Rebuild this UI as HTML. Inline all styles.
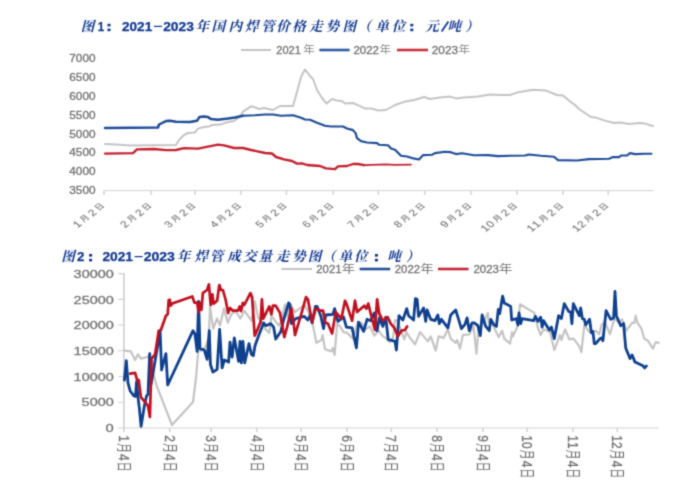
<!DOCTYPE html>
<html lang="zh-CN">
<head>
<meta charset="utf-8">
<title>2021-2023年国内焊管价格走势图 / 焊管成交量走势图</title>
<style>
html,body{margin:0;padding:0;background:#fff;}
body{width:700px;height:485px;overflow:hidden;font-family:"Liberation Sans",sans-serif;}
svg{display:block;}
svg text{font-family:"Liberation Sans","Noto Sans CJK SC",sans-serif;}
svg text.t{font-family:"Liberation Serif","Noto Serif CJK SC",serif;font-weight:bold;font-style:italic;}
svg text.l{stroke:#7a7a7a;stroke-width:0.3px;}
svg text.x{stroke:#8a8a8a;stroke-width:0.15px;}
</style>
</head>
<body>
<svg width="700" height="485" viewBox="0 0 700 485" role="img" aria-label="图1：2021-2023年国内焊管价格走势图（单位：元/吨）；图2：2021-2023年焊管成交量走势图（单位：吨）">
<defs><filter id="soft" x="0" y="0" width="700" height="485" filterUnits="userSpaceOnUse" color-interpolation-filters="sRGB"><feConvolveMatrix order="3" kernelMatrix="0.0289 0.1122 0.0289 0.1122 0.4356 0.1122 0.0289 0.1122 0.0289" divisor="1" edgeMode="duplicate" preserveAlpha="false"/></filter></defs>
<g filter="url(#soft)">
<rect width="700" height="485" fill="#fff"/>
<text class="t" x="80.84" y="31" font-size="13.6" fill="#103791">图</text>
<text x="97.8" y="31" textLength="6.4" lengthAdjust="spacingAndGlyphs" font-size="13" fill="#103791" font-weight="bold" text-anchor="start" stroke="#103791" stroke-width="0.25">1</text>
<rect x="107.5" y="23.8" width="3" height="2.6" fill="#103791"/>
<rect x="107.5" y="28.6" width="3" height="2.6" fill="#103791"/>
<text x="122" y="31" textLength="30.2" lengthAdjust="spacingAndGlyphs" font-size="13" fill="#103791" font-weight="bold" text-anchor="start" stroke="#103791" stroke-width="0.25">2021</text>
<rect x="154" y="25.8" width="8" height="1.2" fill="#103791"/>
<text x="163.2" y="31" textLength="30.6" lengthAdjust="spacingAndGlyphs" font-size="13" fill="#103791" font-weight="bold" text-anchor="start" stroke="#103791" stroke-width="0.25">2023</text>
<text class="t" x="195.59 211.51 228.39 245.01 261.16 276.21 292.11 309.37 325.49 342.44 357.49 375.3 391.85" y="31" font-size="13.6" fill="#103791">年国内焊管价格走势图（单位</text>
<rect x="410.3" y="23.8" width="3" height="2.6" fill="#103791"/>
<rect x="410.3" y="28.6" width="3" height="2.6" fill="#103791"/>
<text class="t" x="425.2" y="31" font-size="13.6" fill="#103791">元</text>
<path d="M441.6 31.5 L448.4 21.5" stroke="#103791" stroke-width="1.8" fill="none"/>
<text class="t" x="447.6 465.18" y="31" font-size="13.6" fill="#103791">吨）</text>
<text class="t" x="61.24" y="261.2" font-size="13.6" fill="#103791">图</text>
<text x="76.9" y="261.2" textLength="7.4" lengthAdjust="spacingAndGlyphs" font-size="13" fill="#103791" font-weight="bold" text-anchor="start" stroke="#103791" stroke-width="0.25">2</text>
<rect x="89.1" y="254" width="3" height="2.6" fill="#103791"/>
<rect x="89.1" y="258.8" width="3" height="2.6" fill="#103791"/>
<text x="102.4" y="261.2" textLength="30.6" lengthAdjust="spacingAndGlyphs" font-size="13" fill="#103791" font-weight="bold" text-anchor="start" stroke="#103791" stroke-width="0.25">2021</text>
<rect x="134.6" y="256" width="8" height="1.2" fill="#103791"/>
<text x="143.7" y="261.2" textLength="31.2" lengthAdjust="spacingAndGlyphs" font-size="13" fill="#103791" font-weight="bold" text-anchor="start" stroke="#103791" stroke-width="0.25">2023</text>
<text class="t" x="176.69 194.41 209.86 226.96 243.08 258.62 275.67 291.99 307.84 321.99 338.5 354.05" y="261.2" font-size="13.6" fill="#103791">年焊管成交量走势图（单位</text>
<rect x="374.9" y="254" width="3" height="2.6" fill="#103791"/>
<rect x="374.9" y="258.8" width="3" height="2.6" fill="#103791"/>
<text class="t" x="387.3 406.08" y="261.2" font-size="13.6" fill="#103791">吨）</text>
<line x1="241" y1="50" x2="271" y2="50" stroke="#c4c4c4" stroke-width="2"/>
<line x1="319.4" y1="50" x2="349.6" y2="50" stroke="#2f5ba4" stroke-width="2.6"/>
<line x1="397" y1="50" x2="428" y2="50" stroke="#cb303c" stroke-width="2.6"/>
<text x="276.3" y="53.6" textLength="24.5" lengthAdjust="spacingAndGlyphs" font-size="10" fill="#6e6e6e" font-weight="normal" text-anchor="start" class="l">2021</text>
<text x="303.27" y="53.2" font-size="10" textLength="11.5" lengthAdjust="spacingAndGlyphs" fill="#858585">年</text>
<text x="353.4" y="53.6" textLength="25.6" lengthAdjust="spacingAndGlyphs" font-size="10" fill="#6e6e6e" font-weight="normal" text-anchor="start" class="l">2022</text>
<text x="379.57" y="53.2" font-size="10" textLength="11.5" lengthAdjust="spacingAndGlyphs" fill="#858585">年</text>
<text x="431.8" y="53.6" textLength="26.2" lengthAdjust="spacingAndGlyphs" font-size="10" fill="#6e6e6e" font-weight="normal" text-anchor="start" class="l">2023</text>
<text x="458.57" y="53.2" font-size="10" textLength="11.5" lengthAdjust="spacingAndGlyphs" fill="#858585">年</text>
<path d="M104 190.6 H653" stroke="#d2d2d2" stroke-width="1" fill="none"/>
<path d="M104 190.6V195.1M151.2 190.6V195.1M195.2 190.6V195.1M240.8 190.6V195.1M286.4 190.6V195.1M333.2 190.6V195.1M378.3 190.6V195.1M424.7 190.6V195.1M471.1 190.6V195.1M517 190.6V195.1M563 190.6V195.1M608.2 190.6V195.1" stroke="#d2d2d2" stroke-width="1.4" fill="none"/>
<text x="69.3" y="61.8" textLength="26.3" lengthAdjust="spacingAndGlyphs" font-size="10.2" fill="#6e6e6e" font-weight="normal" text-anchor="start" class="l">7000</text>
<text x="69.3" y="80.73" textLength="26.3" lengthAdjust="spacingAndGlyphs" font-size="10.2" fill="#6e6e6e" font-weight="normal" text-anchor="start" class="l">6500</text>
<text x="69.3" y="99.66" textLength="26.3" lengthAdjust="spacingAndGlyphs" font-size="10.2" fill="#6e6e6e" font-weight="normal" text-anchor="start" class="l">6000</text>
<text x="69.3" y="118.59" textLength="26.3" lengthAdjust="spacingAndGlyphs" font-size="10.2" fill="#6e6e6e" font-weight="normal" text-anchor="start" class="l">5500</text>
<text x="69.3" y="137.52" textLength="26.3" lengthAdjust="spacingAndGlyphs" font-size="10.2" fill="#6e6e6e" font-weight="normal" text-anchor="start" class="l">5000</text>
<text x="69.3" y="156.45" textLength="26.3" lengthAdjust="spacingAndGlyphs" font-size="10.2" fill="#6e6e6e" font-weight="normal" text-anchor="start" class="l">4500</text>
<text x="69.3" y="175.38" textLength="26.3" lengthAdjust="spacingAndGlyphs" font-size="10.2" fill="#6e6e6e" font-weight="normal" text-anchor="start" class="l">4000</text>
<text x="69.3" y="194.31" textLength="26.3" lengthAdjust="spacingAndGlyphs" font-size="10.2" fill="#6e6e6e" font-weight="normal" text-anchor="start" class="l">3500</text>
<g transform="translate(107.3 205.5) scale(1.3 1) rotate(-45)">
<text class="x" x="-8.6" y="-0.9" font-size="7.3" textLength="6.8" lengthAdjust="spacingAndGlyphs" fill="#757575">日</text>
<text class="x" x="-13.29" y="0" font-size="9.2" fill="#757575" text-anchor="middle">2</text>
<text class="x" x="-24.78" y="-0.9" font-size="7.3" textLength="6.8" lengthAdjust="spacingAndGlyphs" fill="#757575">月</text>
<text class="x" x="-29.47" y="0" font-size="9.2" fill="#757575" text-anchor="middle">1</text>
</g>
<g transform="translate(154.5 205.5) scale(1.3 1) rotate(-45)">
<text class="x" x="-8.6" y="-0.9" font-size="7.3" textLength="6.8" lengthAdjust="spacingAndGlyphs" fill="#757575">日</text>
<text class="x" x="-13.29" y="0" font-size="9.2" fill="#757575" text-anchor="middle">2</text>
<text class="x" x="-24.78" y="-0.9" font-size="7.3" textLength="6.8" lengthAdjust="spacingAndGlyphs" fill="#757575">月</text>
<text class="x" x="-29.47" y="0" font-size="9.2" fill="#757575" text-anchor="middle">2</text>
</g>
<g transform="translate(198.5 205.5) scale(1.3 1) rotate(-45)">
<text class="x" x="-8.6" y="-0.9" font-size="7.3" textLength="6.8" lengthAdjust="spacingAndGlyphs" fill="#757575">日</text>
<text class="x" x="-13.29" y="0" font-size="9.2" fill="#757575" text-anchor="middle">2</text>
<text class="x" x="-24.78" y="-0.9" font-size="7.3" textLength="6.8" lengthAdjust="spacingAndGlyphs" fill="#757575">月</text>
<text class="x" x="-29.47" y="0" font-size="9.2" fill="#757575" text-anchor="middle">3</text>
</g>
<g transform="translate(244.1 205.5) scale(1.3 1) rotate(-45)">
<text class="x" x="-8.6" y="-0.9" font-size="7.3" textLength="6.8" lengthAdjust="spacingAndGlyphs" fill="#757575">日</text>
<text class="x" x="-13.29" y="0" font-size="9.2" fill="#757575" text-anchor="middle">2</text>
<text class="x" x="-24.78" y="-0.9" font-size="7.3" textLength="6.8" lengthAdjust="spacingAndGlyphs" fill="#757575">月</text>
<text class="x" x="-29.47" y="0" font-size="9.2" fill="#757575" text-anchor="middle">4</text>
</g>
<g transform="translate(289.7 205.5) scale(1.3 1) rotate(-45)">
<text class="x" x="-8.6" y="-0.9" font-size="7.3" textLength="6.8" lengthAdjust="spacingAndGlyphs" fill="#757575">日</text>
<text class="x" x="-13.29" y="0" font-size="9.2" fill="#757575" text-anchor="middle">2</text>
<text class="x" x="-24.78" y="-0.9" font-size="7.3" textLength="6.8" lengthAdjust="spacingAndGlyphs" fill="#757575">月</text>
<text class="x" x="-29.47" y="0" font-size="9.2" fill="#757575" text-anchor="middle">5</text>
</g>
<g transform="translate(336.5 205.5) scale(1.3 1) rotate(-45)">
<text class="x" x="-8.6" y="-0.9" font-size="7.3" textLength="6.8" lengthAdjust="spacingAndGlyphs" fill="#757575">日</text>
<text class="x" x="-13.29" y="0" font-size="9.2" fill="#757575" text-anchor="middle">2</text>
<text class="x" x="-24.78" y="-0.9" font-size="7.3" textLength="6.8" lengthAdjust="spacingAndGlyphs" fill="#757575">月</text>
<text class="x" x="-29.47" y="0" font-size="9.2" fill="#757575" text-anchor="middle">6</text>
</g>
<g transform="translate(381.6 205.5) scale(1.3 1) rotate(-45)">
<text class="x" x="-8.6" y="-0.9" font-size="7.3" textLength="6.8" lengthAdjust="spacingAndGlyphs" fill="#757575">日</text>
<text class="x" x="-13.29" y="0" font-size="9.2" fill="#757575" text-anchor="middle">2</text>
<text class="x" x="-24.78" y="-0.9" font-size="7.3" textLength="6.8" lengthAdjust="spacingAndGlyphs" fill="#757575">月</text>
<text class="x" x="-29.47" y="0" font-size="9.2" fill="#757575" text-anchor="middle">7</text>
</g>
<g transform="translate(428 205.5) scale(1.3 1) rotate(-45)">
<text class="x" x="-8.6" y="-0.9" font-size="7.3" textLength="6.8" lengthAdjust="spacingAndGlyphs" fill="#757575">日</text>
<text class="x" x="-13.29" y="0" font-size="9.2" fill="#757575" text-anchor="middle">2</text>
<text class="x" x="-24.78" y="-0.9" font-size="7.3" textLength="6.8" lengthAdjust="spacingAndGlyphs" fill="#757575">月</text>
<text class="x" x="-29.47" y="0" font-size="9.2" fill="#757575" text-anchor="middle">8</text>
</g>
<g transform="translate(474.4 205.5) scale(1.3 1) rotate(-45)">
<text class="x" x="-8.6" y="-0.9" font-size="7.3" textLength="6.8" lengthAdjust="spacingAndGlyphs" fill="#757575">日</text>
<text class="x" x="-13.29" y="0" font-size="9.2" fill="#757575" text-anchor="middle">2</text>
<text class="x" x="-24.78" y="-0.9" font-size="7.3" textLength="6.8" lengthAdjust="spacingAndGlyphs" fill="#757575">月</text>
<text class="x" x="-29.47" y="0" font-size="9.2" fill="#757575" text-anchor="middle">9</text>
</g>
<g transform="translate(520.3 205.5) scale(1.3 1) rotate(-45)">
<text class="x" x="-8.6" y="-0.9" font-size="7.3" textLength="6.8" lengthAdjust="spacingAndGlyphs" fill="#757575">日</text>
<text class="x" x="-13.29" y="0" font-size="9.2" fill="#757575" text-anchor="middle">2</text>
<text class="x" x="-24.78" y="-0.9" font-size="7.3" textLength="6.8" lengthAdjust="spacingAndGlyphs" fill="#757575">月</text>
<text class="x" x="-29.47" y="0" font-size="9.2" fill="#757575" text-anchor="middle">0</text>
<text class="x" x="-35.26" y="0" font-size="9.2" fill="#757575" text-anchor="middle">1</text>
</g>
<g transform="translate(566.3 205.5) scale(1.3 1) rotate(-45)">
<text class="x" x="-8.6" y="-0.9" font-size="7.3" textLength="6.8" lengthAdjust="spacingAndGlyphs" fill="#757575">日</text>
<text class="x" x="-13.29" y="0" font-size="9.2" fill="#757575" text-anchor="middle">2</text>
<text class="x" x="-24.78" y="-0.9" font-size="7.3" textLength="6.8" lengthAdjust="spacingAndGlyphs" fill="#757575">月</text>
<text class="x" x="-29.47" y="0" font-size="9.2" fill="#757575" text-anchor="middle">1</text>
<text class="x" x="-35.26" y="0" font-size="9.2" fill="#757575" text-anchor="middle">1</text>
</g>
<g transform="translate(611.5 205.5) scale(1.3 1) rotate(-45)">
<text class="x" x="-8.6" y="-0.9" font-size="7.3" textLength="6.8" lengthAdjust="spacingAndGlyphs" fill="#757575">日</text>
<text class="x" x="-13.29" y="0" font-size="9.2" fill="#757575" text-anchor="middle">2</text>
<text class="x" x="-24.78" y="-0.9" font-size="7.3" textLength="6.8" lengthAdjust="spacingAndGlyphs" fill="#757575">月</text>
<text class="x" x="-29.47" y="0" font-size="9.2" fill="#757575" text-anchor="middle">2</text>
<text class="x" x="-35.26" y="0" font-size="9.2" fill="#757575" text-anchor="middle">1</text>
</g>
<polyline points="105,144 120,144.8 130,145.4 176,145 179,140 184,135 188,133 195,132.4 198,128.6 204,127 209,126.4 212,125 220,124.6 228,122 234,121 240,116.5 243,111.6 251,106.4 254,106.8 259,109 264,108 273,110 280,106 293,106 297,92 301,77 305,69.6 310,76 313,79 317,90 322,98 326.6,103.6 332,99 337,100.6 342,101 345,103.6 353,103 359,105.6 365,108.6 371,108.6 375,109.5 378,110.4 386,110 395,105 405,101.6 414,100 424,97 430,99 440,97.6 450,96.6 456,98.4 464,97.4 478,96.6 490,94.4 500,95 510,95 517,92.6 533,89.8 546,90.6 557,95 563,95.6 569,100.6 575,105 579,109 591,117 595,117.4 605,120.6 614,123 620,122.4 629,124 639,123 645,123.6 653,126" fill="none" stroke="#c4c4c4" stroke-width="2" stroke-linejoin="round" stroke-linecap="round"/>
<polyline points="105,128.1 158,127.5 159,124.5 166,121.1 170,120.7 176,121.7 190,122.1 197,120.7 199.4,117.1 204,116.5 208,117.1 211,119.1 218,119.7 228,118.5 235,117.5 243,115.7" fill="none" stroke="#1f4c98" stroke-width="2.5" stroke-linejoin="round" stroke-linecap="round"/>
<polyline points="243,115.7 255,115.3 265,114.5 273,114.5 281,115.7 293,115.3 301,117.7 305,119.5 310,119.7 317,122.7 325,125.7 331,126.5 343,126.5 347,128.5 353,130.1 355.6,133.1 357,138.1 361,141.1 367,142.5 377,143.1 379,144.7 388,145.3 391,148.5 395,149.7 401,155.7 407,156.5 412,158.1 419,159.5 423,155.1 432,154.7 435,153.1 445,151.7 450,152.1 456,154.1 462,153.3 474,155.3 488,155.1 498,156.1 510,155.7 525,155.5 529,154.5 541,155.7 554,156.7 558,160.1 577,160.5 589,159.1 609,158.7 613,157.1 619,157.1 621,155.5 627,155.5 630,153.1 635,154.1 645,153.7 651.4,153.7" fill="none" stroke="#1f4c98" stroke-width="2.15" stroke-linejoin="round" stroke-linecap="round"/>
<polyline points="105,153.6 133,153.2 137,149.4 154,149 166,150.2 176,150 184,148.2 198,148.6 208,146.6 218,144.6 224,145.4 234,148 243,148 251,150 265,153 272,153.5 276,157 284,159.4 292,161 297,163.6 302,163.4 307,165 320,166 326,168.4 335,169.2 338,166.4 347,166 353,164 358,164 364,165.2" fill="none" stroke="#c4212e" stroke-width="2.35" stroke-linejoin="round" stroke-linecap="round"/>
<polyline points="364,165.2 386,164.4 394,164.8 411,164.6" fill="none" stroke="#c4212e" stroke-width="1.8" stroke-linejoin="round" stroke-linecap="round"/>
<line x1="281.4" y1="269" x2="312" y2="269" stroke="#c4c4c4" stroke-width="2"/>
<line x1="359.6" y1="269" x2="390.2" y2="269" stroke="#23509c" stroke-width="2.6"/>
<line x1="438" y1="269" x2="468.5" y2="269" stroke="#c92432" stroke-width="2.6"/>
<text x="316.2" y="272.8" textLength="25.4" lengthAdjust="spacingAndGlyphs" font-size="10.6" fill="#6e6e6e" font-weight="normal" text-anchor="start" class="l">2021</text>
<text x="341.89" y="272.9" font-size="11" textLength="13.4" lengthAdjust="spacingAndGlyphs" fill="#6e6e6e">年</text>
<text x="394.8" y="272.8" textLength="25.2" lengthAdjust="spacingAndGlyphs" font-size="10.6" fill="#6e6e6e" font-weight="normal" text-anchor="start" class="l">2022</text>
<text x="420.29" y="272.9" font-size="11" textLength="13.4" lengthAdjust="spacingAndGlyphs" fill="#6e6e6e">年</text>
<text x="473.4" y="272.8" textLength="25.6" lengthAdjust="spacingAndGlyphs" font-size="10.6" fill="#6e6e6e" font-weight="normal" text-anchor="start" class="l">2023</text>
<text x="499.09" y="272.9" font-size="11" textLength="13.4" lengthAdjust="spacingAndGlyphs" fill="#6e6e6e">年</text>
<path d="M123.9 273.2V428.5" stroke="#d2d2d2" stroke-width="1.7" fill="none"/>
<path d="M123.9 428H659" stroke="#d2d2d2" stroke-width="1.1" fill="none"/>
<path d="M123.9 428V432M169.69 428V432M211.04 428V432M256.83 428V432M301.14 428V432M346.93 428V432M391.24 428V432M437.02 428V432M482.81 428V432M527.12 428V432M572.91 428V432M617.22 428V432" stroke="#d2d2d2" stroke-width="1.5" fill="none"/>
<path d="M118.2 273.6H124.4M118.2 299.33H124.4M118.2 325.06H124.4M118.2 350.79H124.4M118.2 376.52H124.4M118.2 402.25H124.4M118.2 427.98H124.4" stroke="#d2d2d2" stroke-width="1.1" fill="none"/>
<text x="73.6" y="277.8" textLength="40.2" lengthAdjust="spacingAndGlyphs" font-size="11.6" fill="#6e6e6e" font-weight="normal" text-anchor="start" class="l">30000</text>
<text x="73.6" y="303.53" textLength="40.2" lengthAdjust="spacingAndGlyphs" font-size="11.6" fill="#6e6e6e" font-weight="normal" text-anchor="start" class="l">25000</text>
<text x="73.6" y="329.26" textLength="40.2" lengthAdjust="spacingAndGlyphs" font-size="11.6" fill="#6e6e6e" font-weight="normal" text-anchor="start" class="l">20000</text>
<text x="73.6" y="354.99" textLength="40.2" lengthAdjust="spacingAndGlyphs" font-size="11.6" fill="#6e6e6e" font-weight="normal" text-anchor="start" class="l">15000</text>
<text x="73.6" y="380.72" textLength="40.2" lengthAdjust="spacingAndGlyphs" font-size="11.6" fill="#6e6e6e" font-weight="normal" text-anchor="start" class="l">10000</text>
<text x="81.6" y="406.45" textLength="32.2" lengthAdjust="spacingAndGlyphs" font-size="11.6" fill="#6e6e6e" font-weight="normal" text-anchor="start" class="l">5000</text>
<text x="105.6" y="432.18" textLength="8.2" lengthAdjust="spacingAndGlyphs" font-size="11.6" fill="#6e6e6e" font-weight="normal" text-anchor="start" class="l">0</text>
<g transform="translate(119.11 435.3) scale(1.27 1) rotate(90)">
<text class="l" x="3.34" y="0" font-size="12" fill="#6e6e6e" text-anchor="middle">1</text>
<text x="7.87" y="0" font-size="12" textLength="9.6" lengthAdjust="spacingAndGlyphs" fill="#6e6e6e">月</text>
<text class="l" x="22.01" y="0" font-size="12" fill="#6e6e6e" text-anchor="middle">4</text>
<text x="26.54" y="0" font-size="12" textLength="9.6" lengthAdjust="spacingAndGlyphs" fill="#6e6e6e">日</text>
</g>
<g transform="translate(164.9 435.3) scale(1.27 1) rotate(90)">
<text class="l" x="3.34" y="0" font-size="12" fill="#6e6e6e" text-anchor="middle">2</text>
<text x="7.87" y="0" font-size="12" textLength="9.6" lengthAdjust="spacingAndGlyphs" fill="#6e6e6e">月</text>
<text class="l" x="22.01" y="0" font-size="12" fill="#6e6e6e" text-anchor="middle">4</text>
<text x="26.54" y="0" font-size="12" textLength="9.6" lengthAdjust="spacingAndGlyphs" fill="#6e6e6e">日</text>
</g>
<g transform="translate(206.26 435.3) scale(1.27 1) rotate(90)">
<text class="l" x="3.34" y="0" font-size="12" fill="#6e6e6e" text-anchor="middle">3</text>
<text x="7.87" y="0" font-size="12" textLength="9.6" lengthAdjust="spacingAndGlyphs" fill="#6e6e6e">月</text>
<text class="l" x="22.01" y="0" font-size="12" fill="#6e6e6e" text-anchor="middle">4</text>
<text x="26.54" y="0" font-size="12" textLength="9.6" lengthAdjust="spacingAndGlyphs" fill="#6e6e6e">日</text>
</g>
<g transform="translate(252.04 435.3) scale(1.27 1) rotate(90)">
<text class="l" x="3.34" y="0" font-size="12" fill="#6e6e6e" text-anchor="middle">4</text>
<text x="7.87" y="0" font-size="12" textLength="9.6" lengthAdjust="spacingAndGlyphs" fill="#6e6e6e">月</text>
<text class="l" x="22.01" y="0" font-size="12" fill="#6e6e6e" text-anchor="middle">4</text>
<text x="26.54" y="0" font-size="12" textLength="9.6" lengthAdjust="spacingAndGlyphs" fill="#6e6e6e">日</text>
</g>
<g transform="translate(296.35 435.3) scale(1.27 1) rotate(90)">
<text class="l" x="3.34" y="0" font-size="12" fill="#6e6e6e" text-anchor="middle">5</text>
<text x="7.87" y="0" font-size="12" textLength="9.6" lengthAdjust="spacingAndGlyphs" fill="#6e6e6e">月</text>
<text class="l" x="22.01" y="0" font-size="12" fill="#6e6e6e" text-anchor="middle">4</text>
<text x="26.54" y="0" font-size="12" textLength="9.6" lengthAdjust="spacingAndGlyphs" fill="#6e6e6e">日</text>
</g>
<g transform="translate(342.14 435.3) scale(1.27 1) rotate(90)">
<text class="l" x="3.34" y="0" font-size="12" fill="#6e6e6e" text-anchor="middle">6</text>
<text x="7.87" y="0" font-size="12" textLength="9.6" lengthAdjust="spacingAndGlyphs" fill="#6e6e6e">月</text>
<text class="l" x="22.01" y="0" font-size="12" fill="#6e6e6e" text-anchor="middle">4</text>
<text x="26.54" y="0" font-size="12" textLength="9.6" lengthAdjust="spacingAndGlyphs" fill="#6e6e6e">日</text>
</g>
<g transform="translate(386.45 435.3) scale(1.27 1) rotate(90)">
<text class="l" x="3.34" y="0" font-size="12" fill="#6e6e6e" text-anchor="middle">7</text>
<text x="7.87" y="0" font-size="12" textLength="9.6" lengthAdjust="spacingAndGlyphs" fill="#6e6e6e">月</text>
<text class="l" x="22.01" y="0" font-size="12" fill="#6e6e6e" text-anchor="middle">4</text>
<text x="26.54" y="0" font-size="12" textLength="9.6" lengthAdjust="spacingAndGlyphs" fill="#6e6e6e">日</text>
</g>
<g transform="translate(432.24 435.3) scale(1.27 1) rotate(90)">
<text class="l" x="3.34" y="0" font-size="12" fill="#6e6e6e" text-anchor="middle">8</text>
<text x="7.87" y="0" font-size="12" textLength="9.6" lengthAdjust="spacingAndGlyphs" fill="#6e6e6e">月</text>
<text class="l" x="22.01" y="0" font-size="12" fill="#6e6e6e" text-anchor="middle">4</text>
<text x="26.54" y="0" font-size="12" textLength="9.6" lengthAdjust="spacingAndGlyphs" fill="#6e6e6e">日</text>
</g>
<g transform="translate(478.02 435.3) scale(1.27 1) rotate(90)">
<text class="l" x="3.34" y="0" font-size="12" fill="#6e6e6e" text-anchor="middle">9</text>
<text x="7.87" y="0" font-size="12" textLength="9.6" lengthAdjust="spacingAndGlyphs" fill="#6e6e6e">月</text>
<text class="l" x="22.01" y="0" font-size="12" fill="#6e6e6e" text-anchor="middle">4</text>
<text x="26.54" y="0" font-size="12" textLength="9.6" lengthAdjust="spacingAndGlyphs" fill="#6e6e6e">日</text>
</g>
<g transform="translate(522.33 435.3) scale(1.27 1) rotate(90)">
<text class="l" x="3.34" y="0" font-size="12" fill="#6e6e6e" text-anchor="middle">1</text>
<text class="l" x="10.01" y="0" font-size="12" fill="#6e6e6e" text-anchor="middle">0</text>
<text x="14.54" y="0" font-size="12" textLength="9.6" lengthAdjust="spacingAndGlyphs" fill="#6e6e6e">月</text>
<text class="l" x="28.68" y="0" font-size="12" fill="#6e6e6e" text-anchor="middle">4</text>
<text x="33.22" y="0" font-size="12" textLength="9.6" lengthAdjust="spacingAndGlyphs" fill="#6e6e6e">日</text>
</g>
<g transform="translate(568.12 435.3) scale(1.27 1) rotate(90)">
<text class="l" x="3.34" y="0" font-size="12" fill="#6e6e6e" text-anchor="middle">1</text>
<text class="l" x="10.01" y="0" font-size="12" fill="#6e6e6e" text-anchor="middle">1</text>
<text x="14.54" y="0" font-size="12" textLength="9.6" lengthAdjust="spacingAndGlyphs" fill="#6e6e6e">月</text>
<text class="l" x="28.68" y="0" font-size="12" fill="#6e6e6e" text-anchor="middle">4</text>
<text x="33.22" y="0" font-size="12" textLength="9.6" lengthAdjust="spacingAndGlyphs" fill="#6e6e6e">日</text>
</g>
<g transform="translate(612.43 435.3) scale(1.27 1) rotate(90)">
<text class="l" x="3.34" y="0" font-size="12" fill="#6e6e6e" text-anchor="middle">1</text>
<text class="l" x="10.01" y="0" font-size="12" fill="#6e6e6e" text-anchor="middle">2</text>
<text x="14.54" y="0" font-size="12" textLength="9.6" lengthAdjust="spacingAndGlyphs" fill="#6e6e6e">月</text>
<text class="l" x="28.68" y="0" font-size="12" fill="#6e6e6e" text-anchor="middle">4</text>
<text x="33.22" y="0" font-size="12" textLength="9.6" lengthAdjust="spacingAndGlyphs" fill="#6e6e6e">日</text>
</g>
<polyline points="124.4,350.7 130.9,351.4 135.1,360 138,354.3 140.9,358.6 146.6,357.1 148.7,356.4 156.6,385.7 172,425 193,402 196,378 198,354 199.6,346 201,351 205.5,347 208.8,338 210,306.4 213.2,328.6 217,318.5 220,325.5 224,308.6 227.8,322.6 231.4,314 236,311.5 240.4,318.6 244.3,310.7 251.4,320.7 255,301.4 257.9,317.1 262.1,322.9 265,328.6 269.3,332.9 271.4,315.7 278.6,325.7 281,322 285,304.3 287.9,317.1 290,303.6 295,312.1 304.3,305 308,311 312.9,325 316.4,342.9 321.4,340 322.6,335 325,349.3 331.4,351.4 332.9,347.9 334.6,355 337.1,323.6 340,326.4 343.6,332.1 347.1,332.9 352.9,338.6 357.9,322.1 361.4,322.9 365.7,329.3 370,326.4 374.3,335.7 378.6,330.7 382.9,336.4 385.7,337.9 389.3,342.1 393,338 395,320 397.5,321 404.3,339.3 406.4,332.1 410,337.9 415,344.3 420,332.1 427.9,341.4 430.7,336.4 435.7,350.7 438.6,336.4 443.6,337.9 447.9,329.3 450.7,338.6 455.7,342.9 457.1,340 460,348.6 462.9,335 469.3,334.3 473.6,326.4 476.4,353.6 478.5,330 484.3,320.7 487.9,312.9 488.6,322.1 492.9,325 498.6,337.1 502.1,330.7 504.3,338.6 510,343.6 512.1,332.1 512.9,336.4 517.9,325.7 520,304.3 534.3,312.9 537.9,327.9 540.7,335 543.6,329.3 550,332.1 554.3,350 560,335 561.4,340 565,329.3 569.3,339.3 573.6,338.6 579.3,346.4 581.4,352.1 584.3,325 589.3,332.1 595.7,330.7 599.3,334.3 601.4,325 605,322 610,334.3 614.3,318.6 619.3,322.9 622.1,319.3 626.4,330.7 632.1,322.9 634.3,322.9 635.7,315.7 637.1,322.1 641.4,328.6 644.3,338.6 647.9,340.7 652.9,348.6 655.7,342.1 658.6,342.9" fill="none" stroke="#c4c4c4" stroke-width="2.2" stroke-linejoin="round" stroke-linecap="round"/>
<polyline points="124.4,380 126.3,360.7 128,382.9 130.1,390.7 133.7,395.7 135.4,396.4 136.6,381.4 138,397.1 139.4,408.6 141.1,426.4 144.4,405.7 146.6,395.7 148,394.5 149.7,353.6 151.1,384.3 160.1,331.4 161.6,370 165.9,353.6 167.7,385 193,330.7 195,334.3 197.1,351.4 198.6,301.4 200,348.6 204.3,350 207.1,359.3 209.3,330.7 210.4,364.3 212.9,372.1 217.1,369.3 219.6,329.3 222.1,367.9 224.3,360 228.6,362.1 230,342.1 232.1,357.1 234.3,337.9 238.6,361.4 240,341.4 241.4,362.9 242.9,341.4 244.7,362.9 249,343.6 251.4,354.3 253.3,355.7 255,345.7 258.6,335.7 263.6,322.9 265.7,325.7 270.7,323.6 273.6,327.1 275.7,339 280.7,331.8 283.6,320 288.6,302.9 290,305 291.4,323.6 295.7,318.6 304.3,316.4 307.9,320 310,315.7 312.1,322.9 315.4,306.4 317.1,306.4 320.7,315.7 323.6,328.6 325.7,315 332.9,314.3 334.6,308.6 337.9,321.4 343.6,317.1 346.4,327.1 352.1,327.9 356.4,347.9 358.6,322.1 363.6,331.4 367.1,319.3 370.7,320.7 374.3,312.9 377.1,330.7 379.3,317.9 382.9,326.4 385.7,317.1 388.2,339.3 395,341.4 396.4,350 399,315.7 402.9,320 406.7,308.6 408.6,315.7 413.6,320 415.4,298.6 417.1,299.3 418.6,316.4 423.6,307.9 425.7,321.4 427.1,310 430.7,319.3 435,320.7 437.9,315 439.3,323.6 441.4,319.3 447.9,327.9 450.7,315 455.7,310 458.6,319.3 461.4,328.6 465,324.3 467.1,317.9 469.3,330.7 472.1,322.9 474.3,322.9 477.9,325.7 480.3,335.7 482.1,315 485.7,326.4 489.3,330.7 490.7,319.3 493.6,324.3 496.4,326.4 498.3,309.3 499.7,313.6 502.6,296.1 504.3,302.9 510.7,306.4 511.7,320 516.4,318.6 517.9,325 519,312.9 520.7,323.6 522.1,318.6 533.6,320.7 535.4,316.4 537.9,321.4 540.7,317.1 542.1,327.1 543.6,320.7 549.3,330 551.4,327.1 554.3,338.6 558.6,315.7 561.4,318.6 564.3,303.6 568.6,311.4 570.7,312.1 571.9,323.6 573.3,303.6 579.3,315.7 580.7,307.9 582.4,318.6 584.3,319.3 585.7,325 589.6,319.3 591.4,332.9 592.9,331.4 594.3,343.6 595.7,343.6 600,338.6 601.9,337.9 602.9,340.7 606.1,310.7 610.7,319.3 613.6,317.9 615,291.4 616.4,315.7 620.7,325.7 623.6,323.6 625.7,347.9 630,358.6 632.1,355 635,362.1 642.9,365.7 644.6,367.9 646.4,366" fill="none" stroke="#0f408f" stroke-width="2.8" stroke-linejoin="round" stroke-linecap="round"/>
<polyline points="130.1,373.6 135.1,372.9 137.3,380.7 138.7,380 140.9,397.1 148,405.7 149.9,416.9 151.6,358.6 155.1,354.3 157.3,340 158.7,330.7 160.9,330 165.9,315.7 167.7,314.3 168.7,300 169.7,299.7 170.6,305.7 172.3,303.6 192.3,296.4 194.4,302.6 197.1,302.6 198.6,312.1 200,302.9 201.4,310 202.9,292.9 207.1,290 208.9,284.3 210.7,305 212.4,294.3 213.6,303.6 217.1,300.7 219.3,285 221,290 222.9,290 225.7,300 228.1,313.1 230,307.9 232.9,310.7 237.9,310.7 239.7,306.4 241,311.1 242.9,302.9 244.3,305 250.4,293.1 252.1,297.1 254.7,335.7 257.9,328.6 260.7,321.4 261.9,299.3 263.3,318.6 269.3,306.4 271.4,314.3 272.9,305.7 275.7,305.7 280,312.9 284.3,337.1 287.1,327.1 291.4,308.6 293.6,322.9 295,335 301.4,313.6 306,297.1 307.9,299.3 312.1,322.1 315.7,308.6 320.7,310.7 323.1,310.7 325,322.1 327.9,323.6 332.1,333.6 335.7,312.1 341.4,318.6 345,300.7 346.4,303.6 352.1,320.7 355,300.7 357.1,312.1 364.3,305.7 366.4,308.6 368.3,303.6 370.7,313.6 375,330 377.1,299.3 379.3,313.6 382.9,320.7 387.6,317.1 390.7,323.6 394.3,327.9 397.9,336.4 401.4,330.7 405,330 407.1,326.4" fill="none" stroke="#c0101f" stroke-width="2.7" stroke-linejoin="round" stroke-linecap="round"/>
</g>
</svg>
</body>
</html>
